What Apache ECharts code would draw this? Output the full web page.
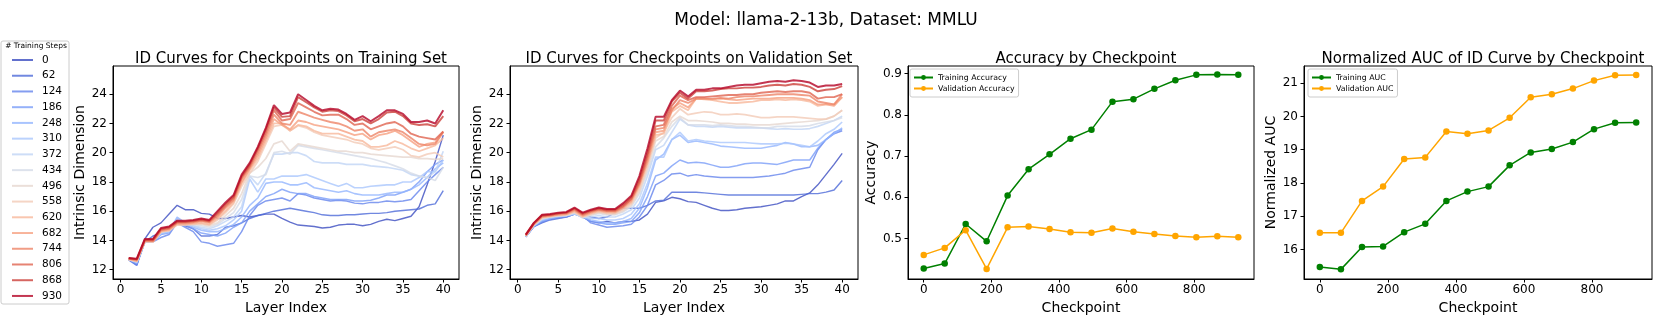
<!DOCTYPE html>
<html>
<head>
<meta charset="utf-8">
<script src="https://cdn.jsdelivr.net/npm/echarts@6.0.0/dist/echarts.min.js"></script>
<style>
  html, body { margin: 0; padding: 0; background: #fff; }
  #chart { width: 1661px; height: 332px; }
</style>
</head>
<body>
<div id="chart"></div>
<script>
  // checkpoints (training steps) and layer indices
  const steps = [0, 62, 124, 186, 248, 310, 372, 434, 496, 558, 620, 682, 744, 806, 868, 930]
  const layers = [1, 2, 3, 4, 5, 6, 7, 8, 9, 10, 11, 12, 13, 14, 15, 16, 17, 18, 19, 20,
    21, 22, 23, 24, 25, 26, 27, 28, 29, 30, 31, 32, 33, 34, 35, 36, 37, 38, 39, 40]

  // ID curves on the training set, one row per checkpoint (same order as steps)
  const trainCurves = [
    [12.7,12.3,14.1,14.9,15.2,15.8,16.4,16.1,16.1,15.85, 15.8,15.5,15.5,15.6,15.7,15.6,15.7,15.8,15.8,15.5, 15.25,15.05,15.0,14.95,14.85,14.9,15.05,15.1,15.1,15.0, 15.1,15.3,15.45,15.35,15.5,15.65,16.3,17.8,19.4,21.2],
    [12.7,12.4,13.9,14.3,14.5,14.7,15.4,15.0,14.8,14.3, 14.3,14.4,14.9,15.0,15.2,15.5,15.7,15.85,16.0,16.1, 16.2,16.1,16.0,15.9,15.75,15.7,15.7,15.75,15.75,15.8, 15.85,15.85,15.9,16.0,16.05,16.1,16.15,16.4,16.5,17.4],
    [12.65,12.3,13.9,13.9,14.2,14.4,15.2,14.9,14.6,13.9, 13.8,13.6,13.7,13.8,14.6,15.7,16.4,16.7,16.8,16.9, 16.7,17.2,17.1,16.9,16.8,16.7,16.75,16.7,16.55,16.5, 16.6,16.6,16.7,16.65,16.7,16.8,17.4,18.0,18.5,19.0],
    [12.7,12.4,13.9,13.95,14.4,14.5,15.5,15.1,14.8,14.5, 14.4,14.3,14.5,14.9,15.2,16.0,16.5,17.0,17.2,17.5, 17.3,17.2,17.2,17.0,16.9,16.8,16.8,16.8,16.7,16.7, 16.75,16.9,17.1,17.1,17.3,17.5,18.0,18.7,19.2,19.5],
    [12.7,12.45,13.9,13.95,14.45,14.6,15.6,15.2,14.9,14.7, 14.6,14.6,14.8,15.1,15.6,16.4,16.9,17.9,18.0,18.0, 17.8,17.8,17.95,17.6,17.5,17.4,17.3,17.4,17.2,17.1, 17.1,17.1,17.2,17.3,17.3,17.5,17.8,18.3,18.9,19.3],
    [12.7,12.5,13.9,13.95,14.5,14.6,15.5,15.2,15.0,14.8, 14.7,14.8,15.0,15.4,16.0,18.2,17.3,18.2,18.2,18.4, 18.4,18.4,18.5,18.3,18.1,17.9,17.7,17.9,17.6,17.6, 17.7,17.75,17.8,17.8,18.0,18.0,18.3,18.7,18.7,19.5],
    [12.7,12.55,13.95,13.95,14.55,14.65,15.4,15.2,15.0,14.9, 14.8,15.0,15.3,15.6,16.3,18.4,17.8,18.6,19.9,19.9, 20.0,20.0,19.8,19.4,19.3,19.3,19.3,19.2,19.2,19.2, 19.1,19.05,19.0,18.9,18.8,18.5,18.4,18.3,18.7,20.1],
    [12.7,12.55,13.95,13.95,14.55,14.7,15.3,15.2,15.1,15.0, 14.9,15.1,15.5,15.9,16.8,18.4,18.3,18.5,20.0,20.1, 19.9,20.5,20.4,20.3,20.2,20.1,20.0,19.9,19.8,19.7, 19.6,19.45,19.3,19.1,18.9,18.6,18.4,18.3,18.1,19.0],
    [12.7,12.6,13.95,13.95,14.6,14.7,15.2,15.2,15.1,15.1, 15.0,15.2,15.7,16.2,17.2,18.6,19.0,19.6,20.6,20.8, 20.1,20.6,20.5,20.4,20.3,20.2,20.1,20.1,20.0,20.0, 19.9,19.85,19.8,19.75,19.7,19.7,19.6,19.6,19.55,19.6],
    [12.7,12.55,13.9,13.9,14.6,14.65,15.05,15.05,15.1,15.15, 15.05,15.4,15.9,16.5,17.7,18.6,19.4,20.6,21.8,21.9, 21.5,21.85,21.7,21.4,21.2,21.1,21.0,20.9,20.7,20.6, 20.3,20.2,20.3,20.4,20.2,19.8,19.7,19.9,20.0,19.7],
    [12.7,12.6,13.95,13.9,14.6,14.7,15.1,15.1,15.15,15.2, 15.1,15.5,16.0,16.6,17.9,18.8,19.6,20.8,22.0,22.0, 21.5,21.9,21.8,21.5,21.3,21.3,21.3,21.1,20.9,20.8, 20.4,20.4,20.5,20.8,20.6,20.3,20.1,20.3,20.5,21.0],
    [12.75,12.6,13.95,13.95,14.65,14.75,15.15,15.15,15.2,15.3, 15.2,15.6,16.2,16.7,18.0,18.9,19.8,21.0,22.3,21.9, 21.6,22.2,22.1,21.9,21.8,21.7,21.6,21.4,21.2,21.3, 20.9,21.2,21.3,21.5,21.2,20.8,20.4,20.6,20.7,21.45],
    [12.75,12.65,14.0,13.95,14.7,14.8,15.2,15.2,15.25,15.35, 15.25,15.7,16.3,16.8,18.2,19.0,20.0,21.2,22.6,22.0, 21.9,22.8,22.6,22.4,22.25,22.1,22.0,21.8,21.5,21.6, 21.1,21.4,21.5,21.6,21.4,21.0,20.6,20.5,20.6,21.4],
    [12.75,12.7,14.0,14.0,14.75,14.85,15.25,15.25,15.3,15.4, 15.3,15.8,16.4,16.9,18.3,19.1,20.2,21.4,22.9,22.2, 22.3,23.4,23.1,22.8,22.55,22.6,22.6,22.3,21.9,22.0, 21.6,21.8,22.0,22.1,21.8,21.3,21.1,21.0,20.9,21.45],
    [12.8,12.7,14.05,14.05,14.8,14.9,15.3,15.3,15.35,15.45, 15.35,15.9,16.5,17.0,18.4,19.2,20.3,21.6,23.1,22.45, 22.5,23.8,23.45,23.1,22.8,22.9,22.85,22.55,22.15,22.3, 22.0,22.3,22.75,22.8,22.5,22.0,21.9,21.95,21.8,22.5],
    [12.8,12.75,14.1,14.1,14.85,14.95,15.35,15.35,15.4,15.5, 15.4,16.0,16.6,17.1,18.5,19.3,20.4,21.7,23.25,22.65, 22.75,24.0,23.6,23.2,22.9,23.0,22.95,22.65,22.25,22.5, 22.15,22.5,22.9,22.9,22.65,22.1,22.1,22.2,22.0,22.9]
  ]

  // ID curves on the validation set
  const valCurves = [
    [14.25,15.0,15.3,15.5,15.6,15.7,15.85,15.6,15.3,15.2, 15.3,15.2,15.3,15.3,15.4,15.8,16.6,16.7,16.95,16.85, 16.65,16.6,16.4,16.2,16.05,16.05,16.1,16.2,16.25,16.3, 16.4,16.5,16.7,16.7,17.0,17.25,17.8,18.5,19.2,19.95],
    [14.25,14.95,15.2,15.4,15.5,15.6,15.8,15.75,15.6,15.5, 15.6,15.9,16.2,16.2,16.2,16.4,16.7,16.75,17.3,17.3, 17.3,17.3,17.25,17.2,17.15,17.1,17.1,17.1,17.1,17.1, 17.1,17.1,17.1,17.1,17.15,17.2,17.2,17.3,17.45,18.1],
    [14.25,14.95,15.25,15.45,15.55,15.6,15.8,15.7,15.2,15.05, 14.9,14.95,15.0,15.1,15.6,16.4,17.8,18.1,18.55,18.6, 18.4,18.5,18.4,18.35,18.3,18.3,18.3,18.3,18.3,18.35, 18.4,18.5,18.6,18.8,18.9,19.0,20.2,20.9,21.3,21.5],
    [14.25,15.0,15.3,15.5,15.6,15.65,15.8,15.65,15.3,15.2, 15.1,15.1,15.2,15.3,15.9,17.0,18.4,18.6,19.1,19.5, 19.3,19.35,19.3,19.15,19.0,19.0,19.1,19.25,19.3,19.3, 19.25,19.2,19.35,19.5,19.5,19.5,20.3,20.9,21.4,21.6],
    [14.25,15.0,15.35,15.5,15.6,15.7,15.8,15.6,15.4,15.3, 15.2,15.2,15.3,15.5,16.2,17.6,19.5,19.9,20.9,21.2, 20.7,20.8,20.7,20.6,20.45,20.4,20.35,20.3,20.3,20.3, 20.4,20.5,20.7,20.6,20.4,20.4,20.5,20.9,21.3,21.7],
    [14.25,15.0,15.4,15.55,15.65,15.7,15.8,15.6,15.5,15.5, 15.4,15.4,15.5,15.8,16.5,17.9,19.7,19.7,20.9,21.4, 20.8,20.9,20.8,20.75,20.7,20.7,20.7,20.7,20.65,20.6, 20.6,20.6,20.65,20.6,20.5,20.4,20.8,21.3,21.6,22.1],
    [14.25,15.05,15.45,15.6,15.65,15.7,15.85,15.55,15.6,15.7, 15.6,15.6,15.8,16.1,16.9,18.4,20.2,20.5,21.4,22.3, 21.9,21.8,21.8,21.75,21.8,21.75,21.7,21.7,21.7,21.7, 21.65,21.6,21.65,21.6,21.6,21.65,21.8,22.0,22.2,22.5],
    [14.3,15.05,15.5,15.6,15.7,15.7,15.9,15.55,15.7,15.85, 15.75,15.75,15.95,16.3,17.2,18.7,20.4,21.0,21.8,22.4, 21.9,21.9,21.9,21.85,21.9,21.85,21.8,21.8,21.75,21.7, 21.7,21.8,21.8,21.8,21.8,21.85,22.0,22.1,22.2,22.4],
    [14.3,15.05,15.5,15.6,15.7,15.75,15.9,15.6,15.75,15.9, 15.8,15.8,16.0,16.4,17.3,18.9,20.8,21.1,22.1,22.5, 22.2,22.2,22.15,22.1,22.0,22.0,21.95,21.95,21.9,21.9, 21.9,21.95,22.0,22.05,22.1,22.15,22.2,22.3,22.5,22.9],
    [14.3,15.1,15.55,15.65,15.7,15.75,15.95,15.6,15.8,15.95, 15.85,15.85,16.1,16.5,17.5,19.1,21.0,21.4,22.4,23.0, 22.6,22.7,22.8,22.75,22.6,22.6,22.65,22.6,22.5,22.4, 22.4,22.45,22.45,22.45,22.4,22.35,22.3,22.3,22.5,22.9],
    [14.3,15.1,15.6,15.65,15.75,15.8,16.0,15.65,15.85,16.0, 15.9,15.9,16.2,16.6,17.7,19.3,21.2,21.3,22.8,23.2, 22.9,23.7,23.65,23.6,23.5,23.4,23.4,23.45,23.5,23.6, 23.6,23.65,23.6,23.65,23.6,23.5,23.2,23.3,23.3,23.8],
    [14.35,15.1,15.6,15.7,15.75,15.8,16.05,15.7,15.9,16.05, 15.95,15.95,16.25,16.7,17.8,19.4,21.4,21.5,23.0,23.4, 23.1,23.7,23.7,23.65,23.7,23.65,23.6,23.65,23.7,23.7, 23.7,23.75,23.75,23.75,23.7,23.6,23.3,23.3,23.2,23.8],
    [14.35,15.15,15.65,15.7,15.8,15.85,16.1,15.75,15.95,16.1, 16.0,16.0,16.3,16.8,17.9,19.6,21.6,21.7,22.9,23.6, 23.4,23.7,23.7,23.7,23.75,23.7,23.8,23.85,23.85,23.9, 23.95,24.0,24.0,24.0,23.95,23.9,23.5,23.4,23.3,24.0],
    [14.35,15.15,15.7,15.75,15.85,15.9,16.15,15.8,16.0,16.15, 16.05,16.05,16.35,16.85,18.0,19.8,21.8,21.9,23.2,23.9, 23.6,23.8,23.8,23.85,23.9,23.95,23.95,24.0,24.0,24.1, 24.15,24.2,24.15,24.2,24.2,24.1,23.7,23.8,23.8,24.0],
    [14.4,15.2,15.7,15.75,15.85,15.9,16.2,15.85,16.05,16.2, 16.1,16.1,16.45,16.95,18.2,20.0,22.2,22.2,23.5,24.1, 23.7,24.2,24.2,24.25,24.35,24.4,24.4,24.45,24.45,24.5, 24.6,24.65,24.6,24.7,24.65,24.5,24.2,24.3,24.35,24.55],
    [14.4,15.2,15.75,15.8,15.9,15.95,16.25,15.9,16.1,16.25, 16.15,16.15,16.55,17.05,18.4,20.3,22.45,22.45,23.6,24.25, 23.85,24.3,24.3,24.4,24.4,24.5,24.6,24.65,24.65,24.75, 24.85,24.9,24.85,24.95,24.9,24.8,24.5,24.6,24.6,24.7]
  ]

  const trainAcc = [0.427, 0.439, 0.535, 0.493, 0.604, 0.668, 0.704, 0.742, 0.764, 0.832, 0.838, 0.863, 0.884, 0.897, 0.898, 0.897]
  const valAcc = [0.460, 0.477, 0.520, 0.426, 0.527, 0.529, 0.523, 0.515, 0.514, 0.524, 0.516, 0.511, 0.506, 0.503, 0.505, 0.503]
  const trainAuc = [15.47, 15.40, 16.07, 16.09, 16.52, 16.77, 17.46, 17.74, 17.89, 18.53, 18.92, 19.02, 19.23, 19.62, 19.81, 19.82]
  const valAuc = [16.50, 16.50, 17.46, 17.89, 18.72, 18.77, 19.55, 19.48, 19.58, 19.96, 20.58, 20.67, 20.84, 21.08, 21.24, 21.25]

  const idTicks = [12, 14, 16, 18, 20, 22, 24]
  const layerTicks = [0, 5, 10, 15, 20, 25, 30, 35, 40]
  const ckptTicks = [0, 200, 400, 600, 800]
  const accTicks = [0.5, 0.6, 0.7, 0.8, 0.9]
  const aucTicks = [16, 17, 18, 19, 20, 21]

  // coolwarm sampled at 16 points
  const coolwarm = ['#3b4cc0', '#4e6ad8', '#6585ec', '#7b9ef8', '#93b5fe', '#aac7fd', '#c0d4f5', '#d4dbe7',
    '#e6d7d0', '#f2cbb6', '#f7b89b', '#f6a081', '#ee8568', '#e06450', '#cc4039', '#b40426']

  const FONT = 'DejaVu Sans'

  function withAlpha(hex, a) {
    const n = parseInt(hex.slice(1), 16)
    return 'rgba(' + (n >> 16) + ',' + ((n >> 8) & 255) + ',' + (n & 255) + ',' + a + ')'
  }

  function makeX(grid, min, max, ticks, name) {
    return {
      type: 'value', gridIndex: grid, min: min, max: max,
      axisLine: { show: true, onZero: false, lineStyle: { color: '#000', width: 1 } },
      axisTick: { show: true, length: 3.5, customValues: ticks, lineStyle: { color: '#000' } },
      axisLabel: { customValues: ticks, color: '#000', fontSize: 12, fontFamily: FONT, margin: 5 },
      splitLine: { show: false },
      name: name, nameLocation: 'middle', nameGap: 19,
      nameTextStyle: { fontSize: 14, color: '#000', fontFamily: FONT },
    }
  }

  function makeY(grid, min, max, ticks, name, gap, fmt) {
    return {
      type: 'value', gridIndex: grid, min: min, max: max,
      axisLine: { show: true, onZero: false, lineStyle: { color: '#000', width: 1 } },
      axisTick: { show: true, length: 3.5, customValues: ticks, lineStyle: { color: '#000' } },
      axisLabel: { customValues: ticks, color: '#000', fontSize: 12, fontFamily: FONT, margin: 6, formatter: fmt },
      splitLine: { show: false },
      name: name, nameLocation: 'middle', nameGap: gap,
      nameTextStyle: { fontSize: 14, color: '#000', fontFamily: FONT },
    }
  }

  const series = []
  steps.forEach((s, k) => {
    const col = withAlpha(coolwarm[k], 0.8)
    const w = 1.4 + k * 0.04
    series.push({
      type: 'line', name: String(s), xAxisIndex: 0, yAxisIndex: 0, symbol: 'none',
      data: layers.map((l, j) => [l, trainCurves[k][j]]),
      lineStyle: { width: w, color: col }, itemStyle: { color: col },
      emphasis: { disabled: true }, silent: true,
    })
    series.push({
      type: 'line', name: String(s), xAxisIndex: 1, yAxisIndex: 1, symbol: 'none',
      data: layers.map((l, j) => [l, valCurves[k][j]]),
      lineStyle: { width: w, color: col }, itemStyle: { color: col },
      emphasis: { disabled: true }, silent: true,
    })
  })

  function scoreSeries(name, axis, vals, color) {
    return {
      type: 'line', name: name, xAxisIndex: axis, yAxisIndex: axis,
      data: steps.map((s, i) => [s, vals[i]]),
      symbol: 'circle', symbolSize: 6.5,
      lineStyle: { width: 1.5, color: color }, itemStyle: { color: color },
      emphasis: { disabled: true }, silent: true,
    }
  }
  series.push(scoreSeries('Training Accuracy', 2, trainAcc, 'green'))
  series.push(scoreSeries('Validation Accuracy', 2, valAcc, 'orange'))
  series.push(scoreSeries('Training AUC', 3, trainAuc, 'green'))
  series.push(scoreSeries('Validation AUC', 3, valAuc, 'orange'))

  const titleStyle = { fontSize: 15, fontWeight: 'normal', color: '#000', fontFamily: FONT }
  const smallLegend = {
    orient: 'vertical', top: 69, padding: [3, 4, 3, 3],
    borderColor: '#ccc', borderWidth: 1, borderRadius: 2, backgroundColor: '#fff',
    itemWidth: 19, itemHeight: 6, itemGap: 0,
    textStyle: { fontSize: 7.8, lineHeight: 11, color: '#000', fontFamily: FONT },
  }

  const option = {
    animation: false,
    backgroundColor: '#fff',
    title: [
      { text: 'Model: llama-2-13b, Dataset: MMLU', left: 821, top: 7, textAlign: 'center',
        textStyle: { fontSize: 17, fontWeight: 'normal', color: '#000', fontFamily: FONT } },
      { text: 'ID Curves for Checkpoints on Training Set', left: 286, top: 47, textAlign: 'center', textStyle: titleStyle },
      { text: 'ID Curves for Checkpoints on Validation Set', left: 684, top: 47, textAlign: 'center', textStyle: titleStyle },
      { text: 'Accuracy by Checkpoint', left: 1081, top: 47, textAlign: 'center', textStyle: titleStyle },
      { text: 'Normalized AUC of ID Curve by Checkpoint', left: 1478, top: 47, textAlign: 'center', textStyle: titleStyle },
    ],
    legend: [
      {
        data: steps.map(String), orient: 'vertical', left: 12, top: 53, padding: 0,
        icon: 'rect', itemWidth: 21, itemHeight: 2, itemGap: 1.73,
        textStyle: { fontSize: 10.5, lineHeight: 14, color: '#000', fontFamily: FONT, padding: [0, 0, 0, 4] },
      },
      Object.assign({ data: ['Training Accuracy', 'Validation Accuracy'], left: 910 }, smallLegend),
      Object.assign({ data: ['Training AUC', 'Validation AUC'], left: 1308 }, smallLegend),
    ],
    graphic: [
      { type: 'rect', shape: { x: 1, y: 41, width: 68, height: 263, r: 2 }, style: { fill: 'none', stroke: '#ccc', lineWidth: 1 }, z: -1 },
      { type: 'text', x: 36, y: 46, style: { text: '# Training Steps', fontSize: 7.5, fontFamily: FONT, fill: '#000', align: 'center', verticalAlign: 'middle' } },
    ],
    grid: [
      { left: 113, top: 66, width: 346, height: 213, show: true, borderColor: '#000', borderWidth: 1 },
      { left: 510, top: 66, width: 348, height: 213, show: true, borderColor: '#000', borderWidth: 1 },
      { left: 908, top: 66, width: 346, height: 213, show: true, borderColor: '#000', borderWidth: 1 },
      { left: 1304, top: 66, width: 348, height: 213, show: true, borderColor: '#000', borderWidth: 1 },
    ],
    xAxis: [
      makeX(0, -0.95, 41.95, layerTicks, 'Layer Index'),
      makeX(1, -0.95, 41.95, layerTicks, 'Layer Index'),
      makeX(2, -46.5, 976.5, ckptTicks, 'Checkpoint'),
      makeX(3, -46.5, 976.5, ckptTicks, 'Checkpoint'),
    ],
    yAxis: [
      makeY(0, 11.36, 25.93, idTicks, 'Intrinsic Dimension', 25),
      makeY(1, 11.36, 25.93, idTicks, 'Intrinsic Dimension', 25),
      makeY(2, 0.4015, 0.9185, accTicks, 'Accuracy', 30, v => v.toFixed(1)),
      makeY(3, 15.11, 21.52, aucTicks, 'Normalized AUC', 25),
    ],
    series: series,
  }

  const chart = echarts.init(document.getElementById('chart'), null, { renderer: 'canvas' })
  chart.setOption(option)
</script>
</body>
</html>
